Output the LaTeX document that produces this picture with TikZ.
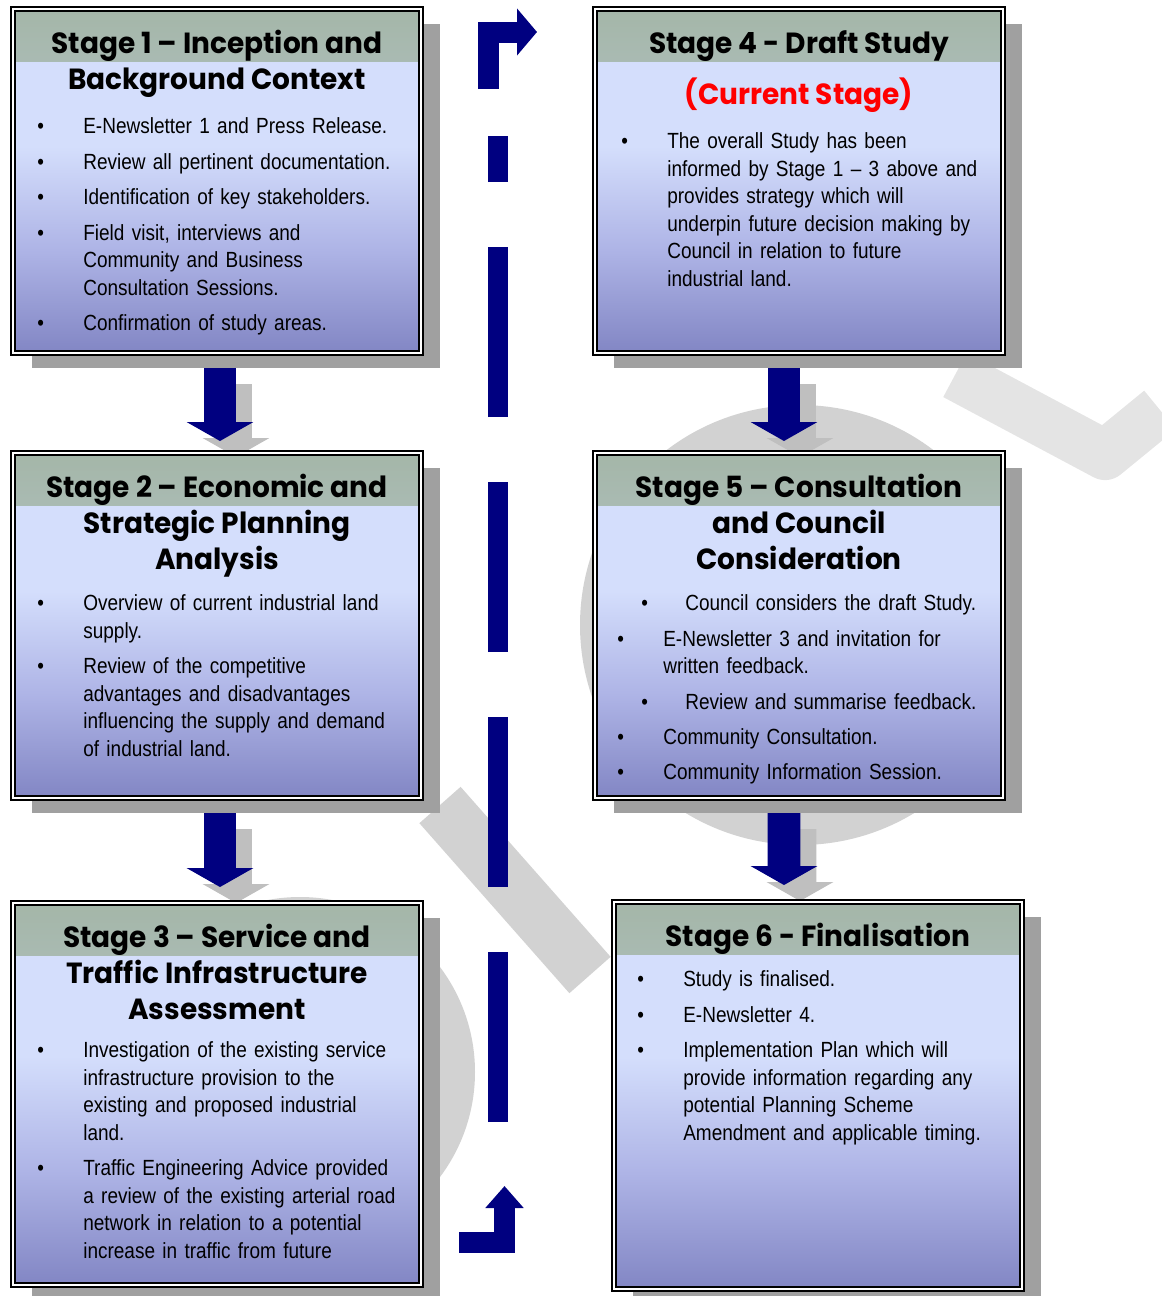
\documentclass[tikz,border=0pt]{standalone}
\usepackage{fontspec}
\newfontfamily\bodyfont[FakeStretch=0.865]{Liberation Sans}
\newfontfamily\headfont[FakeStretch=0.96]{Poppins}
\usepackage{tikz}
\usetikzlibrary{positioning,shadows,arrows.meta}

\definecolor{st_navy}{HTML}{000080}
\definecolor{st_red}{HTML}{FF0000}
\definecolor{st_top}{HTML}{D4DEFC}
\definecolor{st_mid}{HTML}{AEB4E6}
\definecolor{st_bot}{HTML}{8286C4}
\definecolor{st_head}{HTML}{A4B6A8}
\definecolor{st_headlight}{HTML}{C8D4EE}
\definecolor{st_shadow}{HTML}{A0A0A0}
\definecolor{st_mark}{HTML}{D2D2D2}

\pgfdeclareverticalshading{stagebody}{100bp}{color(0bp)=(st_bot); color(25bp)=(st_bot); color(40bp)=(st_mid); color(55bp)=(st_top); color(75bp)=(st_top); color(100bp)=(st_top)}

\pgfdeclarelayer{background}
\pgfsetlayers{background,main}

\newcommand{\sitem}[1]{\par\hangindent=0.92cm\hangafter=1\noindent\makebox[0.92cm][l]{\textbullet}{\let\\\newline #1}\par\vspace{4.5pt}}
\newcommand{\sitemx}[1]{\par\noindent\makebox[1.36cm][l]{\hspace{0.48cm}\textbullet}#1\par\vspace{4.5pt}}

\begin{document}
\begin{tikzpicture}[
    x=0.02cm, y=-0.02cm,
    stage/.style={draw=black, line width=1.2pt, double=white, double distance=1.1pt,
        shading=stagebody, minimum width=8.16cm, inner sep=0pt,
        drop shadow={shadow xshift=0.38cm, shadow yshift=-0.3cm, fill=st_shadow, opacity=1},
        path picture={\shade[top color=st_head, bottom color=st_headlight] (path picture bounding box.north west)
            rectangle ([yshift=-1.04cm]path picture bounding box.north east);}},
    stitle/.style={font=\headfont\bfseries\fontsize{16.6}{20.5}\selectfont, align=center, inner sep=0pt, anchor=north},
    slist/.style={font=\bodyfont\fontsize{12.5}{15.65}\selectfont, text width=7.6cm, align=left,
        inner sep=0pt, anchor=north west},
    flowarrow/.style={draw=st_navy, line width=0.66cm, -{Triangle[length=0.38cm, width=1.32cm]}},
    flowshadow/.style={flowarrow, draw=gray!50, transform canvas={shift={(0.32cm,-0.32cm)}}},
    looparrow/.style={draw=st_navy, line width=0.42cm, line join=miter},
    loopdash/.style={draw=st_navy, line width=0.4cm, dash pattern=on 3.4cm off 1.3cm}
]
    \useasboundingbox (0,0) rectangle (1162,1296);

    \node[stage, minimum height=6.88cm] (s1) at (217,181) {};
    \node[stage, minimum height=6.9cm, below=1.96cm of s1] (s2) {};
    \node[stage, minimum height=7.64cm, below=2.06cm of s2] (s3) {};
    \node[stage, minimum height=6.88cm, right=3.44cm of s1] (s4) {};
    \node[stage, minimum height=6.9cm, below=1.96cm of s4] (s5) {};
    \node[stage, minimum height=7.74cm, below=2.04cm of s5, xshift=0.38cm] (s6) {};

    \node[stitle] (s1t) at ([yshift=-0.44cm]s1.north) {Stage 1 – Inception and\\Background Context};
    \node[slist] (s1b) at ([shift={(25,98)}]s1.north west) {
        \sitem{E-Newsletter 1 and Press Release.}
        \sitem{Review all pertinent documentation.}
        \sitem{Identification of key stakeholders.}
        \sitem{Field visit, interviews and\\Community and Business\\Consultation Sessions.}
        \sitem{Confirmation of study areas.}};

    \node[stitle] (s2t) at ([yshift=-0.44cm]s2.north) {Stage 2 – Economic and\\Strategic Planning\\Analysis};
    \node[slist] (s2b) at ([shift={(25,131)}]s2.north west) {
        \sitem{Overview of current industrial land\\supply.}
        \sitem{Review of the competitive\\advantages and disadvantages\\influencing the supply and demand\\of industrial land.}};

    \node[stitle] (s3t) at ([yshift=-0.44cm]s3.north) {Stage 3 – Service and\\Traffic Infrastructure\\Assessment};
    \node[slist] (s3b) at ([shift={(25,128)}]s3.north west) {
        \sitem{Investigation of the existing service\\infrastructure provision to the\\existing and proposed industrial\\land.}
        \sitem{Traffic Engineering Advice provided\\a review of the existing arterial road\\network in relation to a potential\\increase in traffic from future}};

    \node[stitle] (s4t) at ([yshift=-0.44cm]s4.north) {Stage 4 - Draft Study};
    \node[stitle, text=st_red, below=0.32cm of s4t] (s4c) {(Current Stage)};
    \node[slist] (s4b) at ([shift={(27,113)}]s4.north west) {
        \sitem{The overall Study has been\\informed by Stage 1 – 3 above and\\provides strategy which will\\underpin future decision making by\\Council in relation to future\\industrial land.}};

    \node[stitle] (s5t) at ([yshift=-0.44cm]s5.north) {Stage 5 – Consultation\\and Council\\Consideration};
    \node[slist] (s5b) at ([shift={(23,131)}]s5.north west) {
        \sitemx{Council considers the draft Study.}
        \sitem{E-Newsletter 3 and invitation for\\written feedback.}
        \sitemx{Review and summarise feedback.}
        \sitem{Community Consultation.}
        \sitem{Community Information Session.}};

    \node[stitle] (s6t) at ([yshift=-0.44cm]s6.north) {Stage 6 - Finalisation};
    \node[slist] (s6b) at ([shift={(24,58)}]s6.north west) {
        \sitem{Study is finalised.}
        \sitem{E-Newsletter 4.}
        \sitem{Implementation Plan which will\\provide information regarding any\\potential Planning Scheme\\Amendment and applicable timing.}};

    \begin{pgfonlayer}{background}
        % watermark
        \fill[st_mark] (800,625) circle[radius=220];
        \fill[st_mark] (300,1072) circle[radius=175];
        \draw[st_mark, line width=1.1cm] (440,805) -- (590,975);
        \draw[st_mark!60, line width=1cm, line join=round] (955,375) -- (1105,455) -- (1160,410);

        \draw[flowshadow] ([xshift=0.06cm,yshift=-0.28cm]s1.south) -- ([xshift=0.06cm,yshift=0.22cm]s2.north);
        \draw[flowshadow] ([xshift=0.06cm,yshift=-0.28cm]s2.south) -- ([xshift=0.06cm,yshift=0.3cm]s3.north);
        \draw[flowshadow] ([xshift=-0.3cm,yshift=-0.28cm]s4.south) -- ([xshift=-0.3cm,yshift=0.22cm]s5.north);
        \draw[flowshadow] ([xshift=-0.3cm,yshift=-0.28cm]s5.south) -- ([xshift=-0.68cm,yshift=0.32cm]s6.north);
    \end{pgfonlayer}

    \draw[flowarrow] ([xshift=0.06cm,yshift=-0.28cm]s1.south) -- ([xshift=0.06cm,yshift=0.22cm]s2.north);
    \draw[flowarrow] ([xshift=0.06cm,yshift=-0.28cm]s2.south) -- ([xshift=0.06cm,yshift=0.3cm]s3.north);
    \draw[flowarrow] ([xshift=-0.3cm,yshift=-0.28cm]s4.south) -- ([xshift=-0.3cm,yshift=0.22cm]s5.north);
    \draw[flowarrow] ([xshift=-0.3cm,yshift=-0.28cm]s5.south) -- ([xshift=-0.68cm,yshift=0.32cm]s6.north);

    \coordinate (lb) at (459,1242.5);
    \coordinate (lu) at (504.5,1186);
    \coordinate (ld) at (498,1122);
    \coordinate (lt) at (498,136);
    \coordinate (lv) at (488,89);
    \coordinate (lh) at (537,32);
    \draw[looparrow, -{Triangle[length=0.44cm, width=0.74cm]}] (lb) -| (lu);
    \draw[loopdash] (ld) -- (lt);
    \draw[looparrow, -{Triangle[length=0.4cm, width=0.92cm]}] (lv) |- (lh);
\end{tikzpicture}
\end{document}
